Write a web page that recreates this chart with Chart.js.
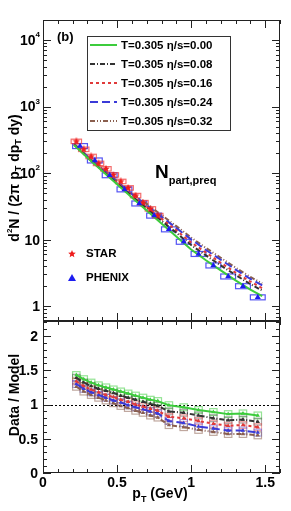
<!DOCTYPE html>
<html>
<head>
<meta charset="utf-8">
<script src="https://cdn.jsdelivr.net/npm/chart.js@4.4.1/dist/chart.umd.min.js"></script>
<style>
    html, body { margin: 0; padding: 0; background: #ffffff; }
    #wrap { position: relative; width: 291px; height: 511px; }
    #topChart { position: absolute; left: 0; top: 0; width: 291px; height: 321px; }
    #ratioChart { position: absolute; left: 0; top: 321px; width: 291px; height: 190px; }
</style>
</head>
<body>
<div id="wrap">
    <canvas id="topChart" width="291" height="321"></canvas>
    <canvas id="ratioChart" width="291" height="190"></canvas>
</div>
<script>
// ---- datos ----
const modelLabels = ['T=0.305 η/s=0.00', 'T=0.305 η/s=0.08', 'T=0.305 η/s=0.16', 'T=0.305 η/s=0.24', 'T=0.305 η/s=0.32'];

// curvas del modelo (panel superior)
const modelPt = [0.21, 0.3, 0.4, 0.5, 0.6, 0.7, 0.8, 0.9, 1.0, 1.1, 1.2, 1.3, 1.4, 1.48];
const modelEta000 = [265, 170, 108, 68, 43, 27.5, 17.5, 11.2, 7.1, 4.9, 3.45, 2.45, 1.78, 1.42];
const modelEta008 = [268, 172, 110, 70, 45, 29.5, 19.2, 12.7, 8.3, 5.8, 4.1, 2.95, 2.15, 1.72];
const modelEta016 = [270, 175, 112, 72, 47, 31, 20.6, 13.8, 9.1, 6.4, 4.5, 3.2, 2.35, 1.87];
const modelEta024 = [273, 178, 114, 74, 48.5, 33, 22, 15, 10.1, 7.0, 5.0, 3.55, 2.58, 2.05];
const modelEta032 = [276, 180, 117, 76, 50, 34.5, 23.5, 16, 10.8, 7.5, 5.35, 3.8, 2.75, 2.2];

// datos experimentales
const starPt = [0.225, 0.275, 0.325, 0.375, 0.425, 0.475, 0.525, 0.575, 0.625, 0.675, 0.725, 0.775];
const starYield = [300, 228, 178, 140, 116, 94, 75, 60, 46, 36, 29, 23];
const phenixPt = [0.25, 0.35, 0.45, 0.55, 0.65, 0.75, 0.85, 0.95, 1.05, 1.15, 1.25, 1.35, 1.45];
const phenixYield = [255, 155, 93, 57, 35, 23, 14.3, 9.3, 6.1, 4.1, 2.8, 2.0, 1.36];

// Data / Model (panel inferior)
const ratioPt = [0.225, 0.275, 0.325, 0.375, 0.425, 0.475, 0.525, 0.575, 0.625, 0.675, 0.725, 0.775, 0.85, 0.95, 1.05, 1.15, 1.25, 1.35, 1.45];
const ratioEta000 = [1.43, 1.37, 1.32, 1.28, 1.25, 1.22, 1.19, 1.16, 1.13, 1.10, 1.07, 1.05, 0.99, 0.96, 0.92, 0.89, 0.86, 0.87, 0.84];
const ratioEta008 = [1.39, 1.32, 1.27, 1.23, 1.20, 1.17, 1.13, 1.10, 1.07, 1.04, 1.01, 0.98, 0.90, 0.88, 0.84, 0.80, 0.77, 0.78, 0.75];
const ratioEta016 = [1.34, 1.27, 1.22, 1.18, 1.14, 1.11, 1.07, 1.04, 1.00, 0.97, 0.94, 0.91, 0.82, 0.80, 0.76, 0.72, 0.69, 0.70, 0.67];
const ratioEta024 = [1.30, 1.23, 1.18, 1.14, 1.10, 1.06, 1.03, 0.99, 0.96, 0.93, 0.90, 0.87, 0.76, 0.73, 0.68, 0.65, 0.62, 0.62, 0.59];
const ratioEta032 = [1.26, 1.19, 1.14, 1.10, 1.06, 1.02, 0.98, 0.95, 0.91, 0.88, 0.84, 0.81, 0.70, 0.67, 0.63, 0.60, 0.57, 0.57, 0.55];

// ejes
const xTickValues = [0, 0.5, 1, 1.5];
const xTickLabels = ['0', '0.5', '1', '1.5'];
const yLogTickValues = [1, 10, 100, 1000, 10000];
const yLogTickLabels = [['1', ''], ['10', ''], ['10', '2'], ['10', '3'], ['10', '4']];
const yRatioTickValues = [0, 0.5, 1, 1.5, 2];
const yRatioTickLabels = ['0', '0.5', '1', '1.5', '2'];

// ---- estilos ----
const modelColors = ['#3ccc3c', '#333333', '#e03a3a', '#3a3ad8', '#8a5e4e'];
const modelBoxColors = ['rgba(60,204,60,0.55)', 'rgba(60,60,60,0.45)', 'rgba(224,58,58,0.45)', 'rgba(58,58,216,0.45)', 'rgba(138,94,78,0.55)'];
const modelDash = [[], [5, 2, 1, 2], [3, 3], [8, 4], [5, 2, 1, 2, 1, 2]];
const FONT = '"Liberation Sans", Arial, sans-serif';

const modelSeries = [modelEta000, modelEta008, modelEta016, modelEta024, modelEta032];
const ratioSeries = [ratioEta000, ratioEta008, ratioEta016, ratioEta024, ratioEta032];

function pts(xs, ys) {
    return xs.map((x, i) => ({ x: x, y: ys[i] }));
}

// estrella rellena para STAR
function starImage(size, color) {
    const c = document.createElement('canvas');
    c.width = size; c.height = size;
    const g = c.getContext('2d');
    const r = size / 2, ri = r * 0.45;
    g.beginPath();
    for (let i = 0; i < 10; i++) {
        const rad = i % 2 === 0 ? r : ri;
        const a = -Math.PI / 2 + i * Math.PI / 5;
        g.lineTo(r + rad * Math.cos(a), r + rad * Math.sin(a));
    }
    g.closePath();
    g.fillStyle = color;
    g.fill();
    return c;
}
const starMarker = starImage(8, '#ee1c1c');

// ---- plugins ----
const boxPlugin = {
    id: 'sysBoxes',
    beforeDatasetsDraw(chart) {
        const { ctx, chartArea: a, scales: { x, y } } = chart;
        ctx.save();
        ctx.beginPath();
        ctx.rect(a.left, a.top, a.right - a.left, a.bottom - a.top);
        ctx.clip();
        chart.data.datasets.forEach(ds => {
            if (!ds.box) return;
            ctx.strokeStyle = ds.box.color;
            ctx.lineWidth = 1.2;
            ds.data.forEach(p => {
                const x1 = x.getPixelForValue(p.x - ds.box.dx);
                const x2 = x.getPixelForValue(p.x + ds.box.dx);
                const y1 = ds.box.log ? y.getPixelForValue(p.y * ds.box.dy) : y.getPixelForValue(p.y + ds.box.dy);
                const y2 = ds.box.log ? y.getPixelForValue(p.y / ds.box.dy) : y.getPixelForValue(p.y - ds.box.dy);
                ctx.strokeRect(x1, y1, x2 - x1, y2 - y1);
            });
        });
        ctx.restore();
    }
};

function drawTicks(chart, o) {
    const { ctx, chartArea: a, scales: { x, y } } = chart;
    ctx.save();
    ctx.strokeStyle = '#222';
    ctx.lineWidth = 1;
    ctx.beginPath();
    o.xTicks.forEach(t => {
        const px = Math.round(x.getPixelForValue(t.v)) + 0.5;
        ctx.moveTo(px, a.bottom); ctx.lineTo(px, a.bottom - t.len);
        ctx.moveTo(px, a.top); ctx.lineTo(px, a.top + t.len);
    });
    o.yTicks.forEach(t => {
        const py = Math.round(y.getPixelForValue(t.v)) + 0.5;
        ctx.moveTo(a.left, py); ctx.lineTo(a.left + t.len, py);
        ctx.moveTo(a.right, py); ctx.lineTo(a.right - t.len, py);
    });
    ctx.stroke();
    ctx.strokeRect(a.left + 0.5, a.top + 0.5, a.right - a.left - 1, a.bottom - a.top - 1);
    ctx.restore();
}

// marcas del eje x: menores cada 0.1
const xTicks = [];
for (let i = 0; i <= 16; i++) xTicks.push({ v: i / 10, len: i % 5 === 0 ? 8 : 4 });

const yLogTicks = [];
for (let d = -1; d <= 4; d++) {
    for (let k = 1; k <= 9; k++) {
        const v = k * Math.pow(10, d);
        if (v >= 0.62 && v <= 20000) yLogTicks.push({ v: v, len: k === 1 ? 8 : 4 });
    }
}
const yRatioTicks = [];
for (let i = 0; i <= 22; i++) yRatioTicks.push({ v: i / 10, len: i % 5 === 0 ? 8 : 4 });

const topDecor = {
    id: 'topDecor',
    afterDraw(chart) {
        const { ctx, scales: { x, y } } = chart;
        drawTicks(chart, { xTicks: xTicks, yTicks: yLogTicks });
        ctx.save();
        ctx.fillStyle = '#000';
        // etiquetas eje y
        ctx.textBaseline = 'middle';
        yLogTickValues.forEach((v, i) => {
            const py = y.getPixelForValue(v);
            const [base, sup] = yLogTickLabels[i];
            ctx.font = 'bold 8px ' + FONT;
            const sw = sup ? ctx.measureText(sup).width : 0;
            ctx.textAlign = 'right';
            ctx.fillText(sup, 40, py - 5);
            ctx.font = 'bold 14px ' + FONT;
            ctx.fillText(base, 40 - sw, py + 1);
        });
        // titulo eje y
        ctx.save();
        ctx.translate(15, 178);
        ctx.rotate(-Math.PI / 2);
        const parts = [['d', 14, 0], ['2', 8, -5], ['N / (2π p', 14, 0], ['T', 9, 4], [' dp', 14, 0], ['T', 9, 4], [' dy)', 14, 0]];
        let total = 0;
        parts.forEach(p => { ctx.font = 'bold ' + p[1] + 'px ' + FONT; total += ctx.measureText(p[0]).width; });
        let cx = -total / 2;
        ctx.textAlign = 'left';
        ctx.textBaseline = 'middle';
        parts.forEach(p => {
            ctx.font = 'bold ' + p[1] + 'px ' + FONT;
            ctx.fillText(p[0], cx, p[2]);
            cx += ctx.measureText(p[0]).width;
        });
        ctx.restore();

        // (b)
        ctx.textAlign = 'left';
        ctx.textBaseline = 'middle';
        ctx.font = 'bold 13px ' + FONT;
        ctx.fillText('(b)', 57, 37);

        // leyenda modelos
        ctx.strokeStyle = '#333';
        ctx.lineWidth = 1;
        ctx.strokeRect(87.5, 36.5, 143, 94);
        const rowY = [45, 64, 83, 102, 121];
        modelLabels.forEach((lab, i) => {
            ctx.save();
            ctx.strokeStyle = modelColors[i];
            ctx.lineWidth = 2;
            ctx.setLineDash(modelDash[i]);
            ctx.beginPath();
            ctx.moveTo(90, rowY[i]); ctx.lineTo(117, rowY[i]);
            ctx.stroke();
            ctx.restore();
            ctx.font = 'bold 11.5px ' + FONT;
            ctx.fillText(lab, 121, rowY[i] + 0.5);
        });

        // N_part,preq
        ctx.textBaseline = 'alphabetic';
        ctx.font = 'bold 19px ' + FONT;
        ctx.fillText('N', 155, 178);
        const nw = ctx.measureText('N').width;
        ctx.font = 'bold 11px ' + FONT;
        ctx.fillText('part,preq', 155 + nw, 184);

        // leyenda datos
        ctx.textBaseline = 'middle';
        ctx.drawImage(starMarker, 68, 250);
        ctx.font = 'bold 11.5px ' + FONT;
        ctx.fillText('STAR', 86, 254);
        ctx.fillStyle = '#1c1cf0';
        ctx.beginPath();
        ctx.moveTo(72, 274); ctx.lineTo(76, 281); ctx.lineTo(68, 281); ctx.closePath();
        ctx.fill();
        ctx.fillStyle = '#000';
        ctx.fillText('PHENIX', 86, 278);
        ctx.restore();
    }
};

const ratioDecor = {
    id: 'ratioDecor',
    beforeDatasetsDraw(chart) {
        const { ctx, chartArea: a, scales: { y } } = chart;
        const py = Math.round(y.getPixelForValue(1)) + 0.5;
        ctx.save();
        ctx.strokeStyle = '#000';
        ctx.lineWidth = 1;
        ctx.setLineDash([2, 2]);
        ctx.beginPath();
        ctx.moveTo(a.left, py); ctx.lineTo(a.right, py);
        ctx.stroke();
        ctx.restore();
    },
    afterDraw(chart) {
        const { ctx, scales: { x, y } } = chart;
        drawTicks(chart, { xTicks: xTicks, yTicks: yRatioTicks });
        ctx.save();
        ctx.fillStyle = '#000';
        ctx.font = 'bold 14px ' + FONT;
        ctx.textAlign = 'right';
        ctx.textBaseline = 'middle';
        yRatioTickValues.forEach((v, i) => {
            ctx.fillText(yRatioTickLabels[i], 38, y.getPixelForValue(v) + 1);
        });
        ctx.textAlign = 'center';
        ctx.textBaseline = 'middle';
        xTickValues.forEach((v, i) => {
            ctx.fillText(xTickLabels[i], x.getPixelForValue(v), 162);
        });
        // titulo eje x
        ctx.textAlign = 'left';
        ctx.textBaseline = 'alphabetic';
        const pw = ctx.measureText('p').width;
        ctx.font = 'bold 9px ' + FONT;
        const tw = ctx.measureText('T').width;
        ctx.font = 'bold 14px ' + FONT;
        const gw = ctx.measureText(' (GeV)').width;
        let sx = 160 - (pw + tw + gw) / 2;
        ctx.fillText('p', sx, 177);
        ctx.font = 'bold 9px ' + FONT;
        ctx.fillText('T', sx + pw, 181);
        ctx.font = 'bold 14px ' + FONT;
        ctx.fillText(' (GeV)', sx + pw + tw, 177);
        // titulo eje y
        ctx.save();
        ctx.translate(15, 74);
        ctx.rotate(-Math.PI / 2);
        ctx.textAlign = 'center';
        ctx.textBaseline = 'middle';
        ctx.fillText('Data / Model', 0, 0);
        ctx.restore();
        ctx.restore();
    }
};

// ---- panel superior ----
const topDatasets = [];
topDatasets.push({
    data: pts(phenixPt, phenixYield),
    pointStyle: 'triangle',
    pointRadius: 3.5,
    backgroundColor: '#1c1cf0',
    borderColor: '#1c1cf0',
    borderWidth: 0,
    box: { dx: 0.05, dy: 1.09, log: true, color: 'rgba(40,40,240,0.8)' }
});
topDatasets.push({
    data: pts(starPt, starYield),
    pointStyle: starMarker,
    pointRadius: 4,
    backgroundColor: '#ee1c1c',
    borderColor: '#ee1c1c',
    box: { dx: 0.035, dy: 1.08, log: true, color: 'rgba(240,60,60,0.75)' }
});
modelSeries.forEach((s, i) => {
    topDatasets.push({
        type: 'line',
        data: pts(modelPt, s),
        borderColor: modelColors[i],
        borderWidth: 2,
        borderDash: modelDash[i],
        pointRadius: 0,
        fill: false,
        tension: 0
    });
});

new Chart(document.getElementById('topChart'), {
    type: 'scatter',
    data: { datasets: topDatasets },
    options: {
        responsive: false,
        animation: false,
        layout: { autoPadding: false, padding: { left: 43, right: 11, top: 20, bottom: 0 } },
        scales: {
            x: { type: 'linear', min: 0, max: 1.6, display: false },
            y: { type: 'logarithmic', min: 0.62, max: 20000, display: false }
        },
        plugins: { legend: { display: false }, tooltip: { enabled: false } }
    },
    plugins: [boxPlugin, topDecor]
});

// ---- panel inferior ----
const ratioDatasets = [];
ratioSeries.forEach((s, i) => {
    ratioDatasets.push({
        type: 'line',
        data: pts(ratioPt, s),
        borderColor: modelColors[i],
        borderWidth: 2,
        borderDash: modelDash[i],
        pointStyle: 'triangle',
        pointRadius: 2.5,
        pointBackgroundColor: modelColors[i],
        pointBorderWidth: 0,
        fill: false,
        box: { dx: 0.025, dy: 0.05, log: false, color: modelBoxColors[i] }
    });
});

new Chart(document.getElementById('ratioChart'), {
    type: 'scatter',
    data: { datasets: ratioDatasets },
    options: {
        responsive: false,
        animation: false,
        layout: { autoPadding: false, padding: { left: 43, right: 11, top: 0, bottom: 38 } },
        scales: {
            x: { type: 'linear', min: 0, max: 1.6, display: false },
            y: { type: 'linear', min: 0, max: 2.22, display: false }
        },
        plugins: { legend: { display: false }, tooltip: { enabled: false } }
    },
    plugins: [boxPlugin, ratioDecor]
});
</script>
</body>
</html>
